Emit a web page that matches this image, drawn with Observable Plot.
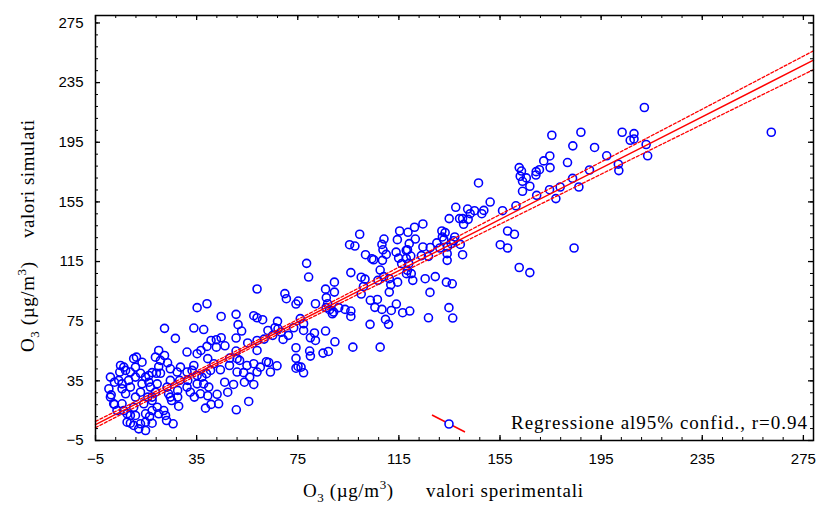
<!DOCTYPE html>
<html>
<head>
<meta charset="utf-8">
<script src="https://cdn.jsdelivr.net/npm/d3@7"></script>
<script src="https://cdn.jsdelivr.net/npm/@observablehq/plot@0.6"></script>
<style>
  html, body { margin: 0; padding: 0; background: #fff; }
  #chart { width: 817px; height: 508px; position: relative; }
</style>
</head>
<body>
<div id="chart"></div>
<script>
const sperimentali = [
  212.1,175.5,187.0,203.3,208.0,208.0,206.5,212.8,213.4,183.8,
  192.4,174.7,172.3,174.8,170.6,169.3,169.2,162.6,163.5,163.0,
  163.9,165.4,166.8,163.9,169.5,174.6,177.1,178.8,181.7,183.7,
  186.2,190.4,197.2,201.8,202.0,262.3,146.5,184.3,162.6,166.8,
  155.1,158.0,158.0,160.7,156.0,161.3,151.1,147.8,144.9,148.6,
  142.2,143.2,142.4,140.2,139.0,140.6,134.9,137.5,124.5,121.2,
  118.6,115.3,109.1,108.3,108.7,114.4,121.5,119.1,118.4,119.7,
  117.9,118.9,118.0,124.5,127.4,123.9,126.7,130.0,132.0,133.3,
  132.2,131.2,132.8,134.2,134.1,134.1,135.7,137.1,139.3,140.2,
  136.6,101.8,104.3,105.0,108.5,110.0,113.9,117.9,114.9,116.1,
  118.4,119.9,95.5,97.6,99.5,96.0,100.1,101.6,101.0,100.1,
  89.5,89.5,106.7,106.5,103.7,105.5,108.3,112.0,114.0,116.5,
  119.3,114.5,120.5,125.4,129.4,127.3,133.8,136.1,134.8,136.3,
  126.7,110.9,109.7,103.6,96.8,107.6,89.7,96.0,96.0,89.2,
  91.2,93.7,107.6,109.0,111.2,111.8,111.2,78.5,79.3,58.9,
  69.9,70.5,75.2,74.3,82.0,86.0,86.3,86.8,86.2,87.6,
  88.7,35.2,39.1,44.7,50.6,51.4,52.8,50.6,57.6,58.9,
  61.1,67.0,66.0,68.4,69.2,71.3,73.4,76.0,77.3,77.3,
  80.0,81.6,82.0,86.0,85.0,87.1,74.3,74.3,75.1,74.3,
  76.3,77.3,80.0,79.7,22.3,26.6,33.9,37.8,40.7,42.8,
  44.7,46.2,42.8,39.1,36.7,35.2,31.2,50.6,55.2,58.9,
  63.2,67.2,65.1,61.7,58.9,62.6,63.5,66.8,64.2,60.2,
  57.6,54.9,58.9,56.0,53.6,52.0,51.0,48.1,48.0,44.4,
  46.1,47.3,49.6,51.0,53.9,57.6,55.6,50.7,43.1,43.7,
  40.7,38.5,39.4,39.8,37.8,37.1,38.9,40.5,41.8,39.4,
  33.9,35.2,33.2,31.5,31.2,32.5,34.1,35.2,36.5,31.2,
  28.6,27.3,28.3,27.5,27.5,27.9,24.6,25.1,23.9,23.3,
  24.6,24.6,23.5,22.3,20.7,20.0,18.7,20.0,20.7,19.1,
  17.4,19.4,18.7,17.4,19.4,22.7,22.0,25.7,23.1,20.0,
  17.4,16.4,17.4,14.8,14.1,15.7,16.7,14.8,12.8,12.1,
  14.8,10.1,8.8,7.5,8.8,10.8,7.5,6.2,5.5,3.5,
  2.2,0.9,10.1,10.8,12.8,8.8,6.9,5.5,5.5,8.1,
  10.8,8.8,6.9,4.6,4.9,6.2,10.8,11.2,10.1,13.4,
  14.8,16.1,16.1,13.4,12.8,0.3,1.2,2.5,0.9,4.2,2.5,17.4
];
const simulati = [
  218.3,199.7,201.7,201.7,200.8,197.2,196.3,193.5,185.9,192.6,
  191.5,185.8,182.5,178.0,176.6,175.3,173.0,178.0,175.7,172.2,
  168.8,171.1,165.5,162.1,159.4,163.2,157.2,165.0,181.4,170.8,
  165.0,176.4,185.9,180.3,176.0,201.7,167.7,124.1,111.0,107.6,
  126.3,124.1,135.5,133.3,149.1,152.4,154.9,147.1,149.1,149.3,
  150.2,147.1,143.3,143.8,143.8,140.0,143.8,151.4,140.2,138.0,
  134.6,135.5,130.1,126.5,122.9,129.7,130.1,127.0,122.9,118.7,
  117.1,113.6,106.9,124.8,124.4,119.0,118.5,127.5,135.5,134.4,
  131.5,124.1,129.7,124.8,120.3,115.8,127.0,131.5,126.5,119.6,
  129.0,119.6,116.9,116.2,115.8,119.8,121.3,122.5,117.3,113.6,
  109.1,106.9,126.3,125.4,133.3,107.6,104.5,103.2,98.3,93.2,
  101.2,94.5,102.4,89.6,89.0,84.3,82.9,82.2,86.5,80.7,
  81.8,101.2,102.4,103.5,104.9,94.3,101.2,100.1,84.1,77.1,
  77.3,72.9,76.2,72.9,57.6,57.6,61.2,81.8,78.2,81.1,
  84.1,82.9,109.3,104.9,103.5,99.4,94.5,113.8,104.6,96.6,
  93.5,90.1,88.5,86.5,86.7,96.5,90.8,86.7,84.1,82.7,
  80.0,84.1,86.7,78.2,79.6,72.7,68.4,63.7,78.7,77.3,
  76.0,74.9,70.6,67.6,62.8,65.5,70.6,76.7,73.3,68.8,
  63.9,67.1,62.1,68.4,53.6,54.7,57.2,50.1,44.7,43.5,
  44.2,40.4,51.6,55.0,70.2,63.5,70.4,69.4,62.1,62.6,
  63.9,58.5,57.6,58.1,55.4,53.2,54.3,55.0,60.4,62.1,
  68.8,69.9,65.5,63.0,55.4,47.8,47.3,45.1,40.9,44.2,
  46.5,45.3,40.9,37.5,40.5,48.7,49.9,50.3,45.3,42.4,
  34.1,27.4,32.6,40.9,34.1,32.6,21.2,15.6,26.0,19.6,
  19.2,16.7,25.0,30.8,33.0,37.5,39.8,42.0,46.5,49.9,
  45.3,38.6,42.0,35.3,30.8,27.4,24.1,33.0,26.3,40.9,
  44.2,40.9,35.3,28.6,24.1,18.0,24.1,21.8,26.3,30.8,
  35.3,43.1,47.1,52.0,48.7,55.4,50.9,44.5,40.1,40.1,
  40.5,33.0,27.4,21.8,17.3,11.8,15.1,6.2,8.4,12.9,
  15.1,11.1,6.6,12.9,19.6,24.1,30.8,7.3,6.2,2.8,
  1.7,5.1,6.6,7.3,11.8,11.8,12.9,15.1,19.6,15.1,
  19.6,24.1,17.3,24.1,27.4,30.8,26.3,29.7,33.0,35.3,
  37.5,40.9,42.0,40.9,45.3,44.2,44.2,50.9,49.9,47.5,
  37.5,38.6,34.1,33.0,40.1,29.7,25.6,19.2,37.5,35.3,34.1,24.1
];

// Regression line and 95% confidence band, read at a few x positions
const bandX     = [-5,   20,   50,   100,  150,   212,   279];
const retta     = [5.7,  27.2, 53.0, 96.0, 139.0, 192.3, 250.0];
const bandaSup  = [7.8,  28.9, 54.5, 98.0, 142.1, 196.8, 256.3];
const bandaInf  = [3.6,  25.5, 51.5, 94.0, 135.9, 187.8, 243.7];

// Tick labels
const tickLabels = [-5, 35, 75, 115, 155, 195, 235, 275];
const minorTicks = d3.range(-5, 280, 8);

const legendText = "Regressione al95% confid., r=0.94";

// ---- Build tables ----
const punti = sperimentali.map((x, i) => ({x, y: simulati[i]}));
const fit = bandX.map((x, i) => ({x, y: retta[i]}));
const sup = bandX.map((x, i) => ({x, y: bandaSup[i]}));
const inf = bandX.map((x, i) => ({x, y: bandaInf[i]}));

const W = 817, H = 508;
const mL = 95, mR = 4, mT = 15, mB = 68;
const fw = W - mL - mR, fh = H - mT - mB;
const RED = "#ff0000", BLUE = "#0000ff";

const chart = Plot.plot({
  width: W, height: H,
  marginLeft: mL, marginRight: mR, marginTop: mT, marginBottom: mB,
  x: {domain: [-5, 279]},
  y: {domain: [-5, 280]},
  style: {fontFamily: "'Liberation Sans', Arial, sans-serif", fontSize: "15px", background: "#fff", color: "#000"},
  marks: [
    Plot.dot(punti, {x: "x", y: "y", r: 4, stroke: BLUE, strokeWidth: 1.6, fill: "none"}),
    Plot.line(sup, {x: "x", y: "y", stroke: RED, strokeWidth: 1.3, strokeDasharray: "3,2", curve: "natural"}),
    Plot.line(inf, {x: "x", y: "y", stroke: RED, strokeWidth: 1.3, strokeDasharray: "3,2", curve: "natural"}),
    Plot.line(fit, {x: "x", y: "y", stroke: RED, strokeWidth: 1.4}),
    // inward ticks, all four sides
    Plot.ruleX(minorTicks, {x: d => d, insetTop: fh - 3, stroke: "#000"}),
    Plot.ruleX(minorTicks, {x: d => d, insetBottom: fh - 3, stroke: "#000"}),
    Plot.ruleY(minorTicks, {y: d => d, insetRight: fw - 3, stroke: "#000"}),
    Plot.ruleY(minorTicks, {y: d => d, insetLeft: fw - 3, stroke: "#000"}),
    Plot.ruleX(tickLabels, {x: d => d, insetTop: fh - 5, stroke: "#000", strokeWidth: 1.3}),
    Plot.ruleX(tickLabels, {x: d => d, insetBottom: fh - 5, stroke: "#000", strokeWidth: 1.3}),
    Plot.ruleY(tickLabels, {y: d => d, insetRight: fw - 5, stroke: "#000", strokeWidth: 1.3}),
    Plot.ruleY(tickLabels, {y: d => d, insetLeft: fw - 5, stroke: "#000", strokeWidth: 1.3}),
    Plot.axisX({ticks: tickLabels, tickSize: 0, tickPadding: 13, label: null}),
    Plot.axisY({ticks: tickLabels, tickSize: 0, tickPadding: 12, label: null}),
    Plot.frame({stroke: "#000", strokeWidth: 1.5})
  ]
});

document.getElementById("chart").appendChild(chart);

// ---- Axis titles and legend (text) ----
const svg = d3.select(chart);
const SERIF = "'Liberation Serif', 'Times New Roman', serif";
const FS = 19;

function o3unit(t) {
  t.append("tspan").text("O");
  t.append("tspan").attr("dy", 5).attr("font-size", 13).text("3");
  t.append("tspan").attr("dy", -5).text(" (\u00b5g/m");
  t.append("tspan").attr("dy", -8).attr("font-size", 13).text("3");
  t.append("tspan").attr("dy", 8).text(")");
}

// X title
const xt1 = svg.append("text").attr("x", 303).attr("y", 497).attr("text-anchor", "start")
  .attr("font-family", SERIF).attr("font-size", FS).attr("fill", "#000")
  .attr("letter-spacing", 0.6);
o3unit(xt1);
svg.append("text").attr("x", 583).attr("y", 497).attr("text-anchor", "end")
  .attr("font-family", SERIF).attr("font-size", FS).attr("fill", "#000")
  .attr("textLength", 157).attr("lengthAdjust", "spacing")
  .text("valori sperimentali");

// Y title
const yt1 = svg.append("text").attr("transform", "translate(34,352) rotate(-90)").attr("text-anchor", "start")
  .attr("font-family", SERIF).attr("font-size", FS).attr("fill", "#000")
  .attr("letter-spacing", 0.6);
o3unit(yt1);
svg.append("text").attr("transform", "translate(34,120) rotate(-90)").attr("text-anchor", "end")
  .attr("font-family", SERIF).attr("font-size", FS).attr("fill", "#000")
  .attr("textLength", 118).attr("lengthAdjust", "spacing")
  .text("valori simulati");

// Legend
svg.append("line").attr("x1", 432).attr("y1", 415).attr("x2", 465).attr("y2", 432)
  .attr("stroke", RED).attr("stroke-width", 1.5);
svg.append("circle").attr("cx", 449).attr("cy", 424).attr("r", 4)
  .attr("fill", "#fff").attr("stroke", BLUE).attr("stroke-width", 1.6);
svg.append("text").attr("x", 807).attr("y", 429).attr("text-anchor", "end")
  .attr("font-family", SERIF).attr("font-size", FS).attr("fill", "#000")
  .attr("textLength", 296).attr("lengthAdjust", "spacing")
  .text(legendText);
</script>
</body>
</html>
